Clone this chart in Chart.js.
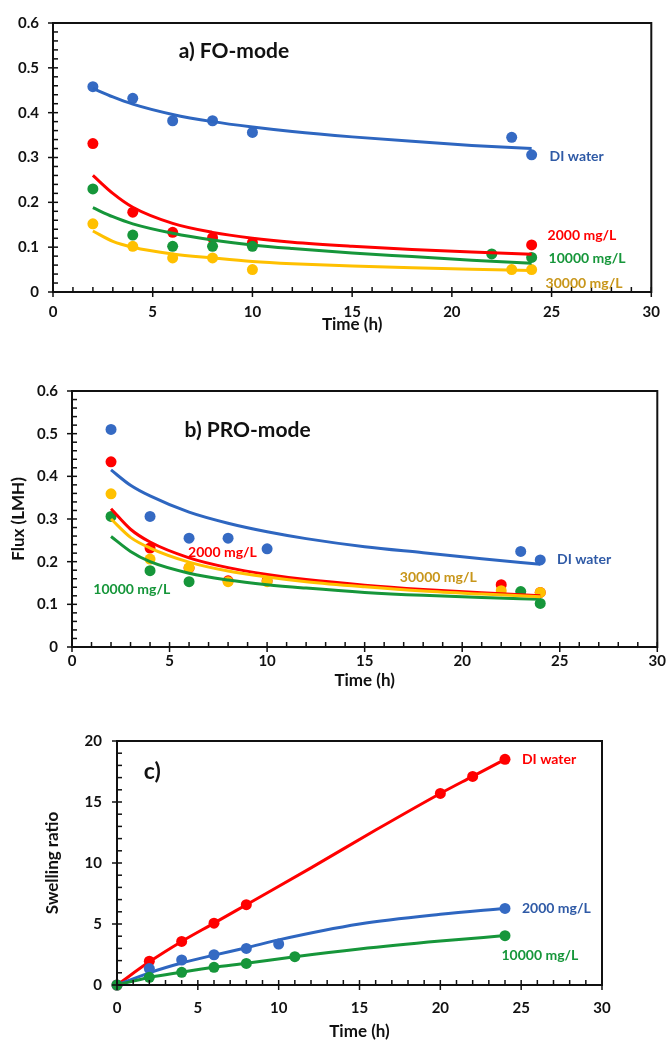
<!DOCTYPE html>
<html>
<head>
<meta charset="utf-8">
<script src="https://cdn.jsdelivr.net/npm/chart.js@4"></script>
<style>
  body { margin: 0; background: #fff; }
  .panel { position: absolute; left: 0; }
</style>
</head>
<body>
<canvas id="chartA" class="panel" style="top:0px" width="671" height="335"></canvas>
<canvas id="chartB" class="panel" style="top:340px" width="671" height="351"></canvas>
<canvas id="chartC" class="panel" style="top:690px" width="671" height="352"></canvas>
<script>
// ---- a) FO-mode, measured points (Time h, Flux LMH)
const timeA_DI = [2, 4, 6, 8, 10, 23, 24];
const fluxA_DI = [0.458, 0.432, 0.382, 0.382, 0.356, 0.345, 0.306];
const timeA_2000 = [2, 4, 6, 8, 10, 24];
const fluxA_2000 = [0.331, 0.178, 0.133, 0.121, 0.110, 0.105];
const timeA_10000 = [2, 4, 6, 8, 10, 22, 24];
const fluxA_10000 = [0.230, 0.127, 0.102, 0.102, 0.102, 0.085, 0.077];
const timeA_30000 = [2, 4, 6, 8, 10, 23, 24];
const fluxA_30000 = [0.152, 0.102, 0.076, 0.076, 0.050, 0.050, 0.050];

// trend lines
const fitTime = [2, 3, 4, 6, 8, 10, 12, 15, 18, 21, 24];
const fitA_DI = [0.454, 0.435, 0.419, 0.396, 0.380, 0.368, 0.358, 0.346, 0.336, 0.327, 0.320];
const fitA_2000 = [0.260, 0.220, 0.189, 0.153, 0.133, 0.120, 0.111, 0.102, 0.095, 0.089, 0.084];
const fitA_10000 = [0.188, 0.168, 0.152, 0.131, 0.116, 0.105, 0.097, 0.087, 0.079, 0.071, 0.064];
const fitA_30000 = [0.136, 0.113, 0.100, 0.085, 0.076, 0.068, 0.063, 0.058, 0.054, 0.051, 0.048];

// ---- b) PRO-mode
const timeB_DI = [2, 4, 6, 8, 10, 23, 24];
const fluxB_DI = [0.510, 0.306, 0.255, 0.255, 0.230, 0.224, 0.204];
const timeB_2000 = [2, 4, 6, 8, 10, 22, 24];
const fluxB_2000 = [0.434, 0.232, 0.185, 0.155, 0.155, 0.146, 0.128];
const timeB_10000 = [2, 4, 6, 23, 24];
const fluxB_10000 = [0.306, 0.179, 0.153, 0.130, 0.102];
const timeB_30000 = [2, 4, 6, 8, 10, 22, 24];
const fluxB_30000 = [0.359, 0.206, 0.186, 0.153, 0.153, 0.132, 0.128];

const fitB_DI = [0.415, 0.379, 0.354, 0.316, 0.290, 0.270, 0.254, 0.235, 0.221, 0.207, 0.194];
const fitB_2000 = [0.324, 0.276, 0.246, 0.209, 0.186, 0.170, 0.158, 0.145, 0.135, 0.127, 0.120];
const fitB_10000 = [0.259, 0.224, 0.200, 0.173, 0.157, 0.146, 0.138, 0.128, 0.121, 0.116, 0.112];
const fitB_30000 = [0.300, 0.257, 0.232, 0.199, 0.178, 0.164, 0.153, 0.141, 0.131, 0.124, 0.118];

// ---- c) Swelling ratio
const timeC_DI = [0, 2, 4, 6, 8, 20, 22, 24];
const ratioC_DI = [0, 1.95, 3.57, 5.07, 6.58, 15.7, 17.1, 18.5];
const timeC_2000 = [0, 2, 4, 6, 8, 10, 24];
const ratioC_2000 = [0, 1.35, 2.05, 2.48, 3.0, 3.36, 6.28];
const timeC_10000 = [0, 2, 4, 6, 8, 11, 24];
const ratioC_10000 = [0, 0.63, 1.04, 1.45, 1.77, 2.32, 4.04];

const fitTimeC_DI = [0, 2, 4, 6, 8, 12, 16, 20, 22, 24];
const fitC_DI = [0, 1.9, 3.57, 5.07, 6.58, 9.6, 12.7, 15.7, 17.1, 18.5];
const fitTimeC_2000 = [0, 2, 4, 6, 8, 10, 15, 20, 24];
const fitC_2000 = [0, 1.0, 1.8, 2.45, 3.05, 3.7, 5.0, 5.8, 6.28];
const fitTimeC_10000 = [0, 2, 4, 6, 8, 11, 15, 20, 24];
const fitC_10000 = [0, 0.62, 1.05, 1.45, 1.78, 2.32, 2.95, 3.6, 4.05];

const BLUE = '#356ac3', RED = '#ff0000', GREEN = '#16963a', YELLOW = '#ffc000';
const BLUE_TXT = '#2f5aa6', GOLD_TXT = '#c8961a';
const FONT = "Lato, 'Open Sans', sans-serif";

function pairs(xs, ys) {
    return xs.map((x, i) => ({ x: x, y: ys[i] }));
}

function pointSet(xs, ys, color, order) {
    return {
        data: pairs(xs, ys),
        showLine: false,
        pointRadius: 5.5,
        pointBorderWidth: 0,
        backgroundColor: color,
        borderColor: color,
        order: order,
        clip: false
    };
}

function lineSet(xs, ys, color, order) {
    return {
        data: pairs(xs, ys),
        showLine: true,
        pointRadius: 0,
        borderColor: color,
        borderWidth: 3,
        cubicInterpolationMode: 'monotone',
        order: order,
        clip: false
    };
}

// box + inside minor ticks + text labels
const framePlugin = {
    id: 'frame',
    afterDatasetsDraw(chart, args, opts) {
        const ctx = chart.ctx;
        const a = chart.chartArea;
        const x = chart.scales.x, y = chart.scales.y;
        ctx.save();
        ctx.strokeStyle = '#111';
        ctx.lineWidth = 2;
        ctx.strokeRect(a.left, a.top, a.right - a.left, a.bottom - a.top);
        ctx.lineWidth = 1.5;
        const isMajor = (v, m) => Math.abs(v / m - Math.round(v / m)) < 1e-6;
        for (let v = x.min; v <= x.max + 1e-9; v += opts.xMinor) {
            const px = x.getPixelForValue(v);
            ctx.beginPath();
            ctx.moveTo(px, a.bottom - 5);
            ctx.lineTo(px, a.bottom + (isMajor(v, opts.xMajor) ? 5 : 0));
            ctx.stroke();
        }
        for (let v = y.min; v <= y.max + 1e-9; v += opts.yMinor) {
            const py = y.getPixelForValue(v);
            ctx.beginPath();
            ctx.moveTo(a.left + 5, py);
            ctx.lineTo(a.left - (isMajor(v, opts.yMajor) ? 5 : 0), py);
            ctx.stroke();
        }
        ctx.textBaseline = 'middle';
        ctx.textAlign = 'left';
        opts.notes.forEach(n => {
            ctx.font = `bold ${n.size}px ${FONT}`;
            ctx.fillStyle = n.color;
            ctx.fillText(n.text, x.getPixelForValue(n.x), y.getPixelForValue(n.y));
        });
        ctx.restore();
    }
};

function makeChart(id, datasets, cfg) {
    return new Chart(document.getElementById(id), {
        type: 'scatter',
        data: { datasets: datasets },
        plugins: [framePlugin],
        options: {
            responsive: false,
            animation: false,
            devicePixelRatio: 1,
            layout: { padding: { top: cfg.padTop, right: cfg.padRight, left: 0, bottom: 0 } },
            plugins: {
                legend: { display: false },
                tooltip: { enabled: false },
                frame: { xMinor: 1, xMajor: 5, yMinor: cfg.yMinor, yMajor: cfg.yStep, notes: cfg.notes }
            },
            scales: {
                x: {
                    min: 0, max: 30,
                    grid: { display: false, drawTicks: false },
                    border: { display: false },
                    ticks: { stepSize: 5, padding: cfg.xPad, color: '#111', font: { family: FONT, size: 15, weight: 'bold' } },
                    title: { display: true, text: 'Time (h)', color: '#111', padding: 0, font: { family: FONT, size: 17, weight: 'bold' } },
                    afterFit: s => { s.height = cfg.xHeight; }
                },
                y: {
                    min: 0, max: cfg.yMax,
                    grid: { display: false, drawTicks: false },
                    border: { display: false },
                    ticks: {
                        stepSize: cfg.yStep, padding: cfg.yPad, color: '#111',
                        font: { family: FONT, size: 15, weight: 'bold' },
                        callback: v => cfg.yStep < 1 ? (v === 0 ? '0' : v.toFixed(1)) : v
                    },
                    title: { display: !!cfg.yTitle, text: cfg.yTitle || '', color: '#111', padding: { top: cfg.yTitlePad }, font: { family: FONT, size: 17, weight: 'bold' } },
                    afterFit: s => { s.width = cfg.yWidth; }
                }
            }
        }
    });
}

document.addEventListener('DOMContentLoaded', () => {
    makeChart('chartA', [
        lineSet(fitTime, fitA_DI, '#2e66c0', 0),
        lineSet(fitTime, fitA_2000, RED, 0),
        lineSet(fitTime, fitA_10000, GREEN, 0),
        lineSet(fitTime, fitA_30000, YELLOW, 0),
        pointSet(timeA_30000, fluxA_30000, YELLOW, 1),
        pointSet(timeA_10000, fluxA_10000, GREEN, 2),
        pointSet(timeA_2000, fluxA_2000, RED, 3),
        pointSet(timeA_DI, fluxA_DI, BLUE, 4)
    ], {
        padTop: 21, padRight: 11, yMax: 0.6, yStep: 0.1, yMinor: 0.02,
        xHeight: 43, yWidth: 53, xPad: 11, yPad: 14,
        notes: [
            { text: 'a) FO-mode', x: 6.3, y: 0.537, color: '#111', size: 21 },
            { text: 'DI water', x: 24.9, y: 0.303, color: BLUE_TXT, size: 14 },
            { text: '2000 mg/L', x: 24.8, y: 0.125, color: RED, size: 14 },
            { text: '10000 mg/L', x: 24.85, y: 0.075, color: GREEN, size: 14 },
            { text: '30000 mg/L', x: 24.7, y: 0.020, color: GOLD_TXT, size: 14 }
        ]
    });

    makeChart('chartB', [
        lineSet(fitTime, fitB_DI, '#2e66c0', 0),
        lineSet(fitTime, fitB_30000, YELLOW, 0),
        lineSet(fitTime, fitB_2000, RED, 0),
        lineSet(fitTime, fitB_10000, GREEN, 0),
        pointSet(timeB_30000, fluxB_30000, YELLOW, 1),
        pointSet(timeB_10000, fluxB_10000, GREEN, 2),
        pointSet(timeB_2000, fluxB_2000, RED, 3),
        pointSet(timeB_DI, fluxB_DI, BLUE, 4)
    ], {
        padTop: 51, padRight: 11, yMax: 0.6, yStep: 0.1, yMinor: 0.02,
        xHeight: 44, yWidth: 72, xPad: 5, yPad: 14,
        yTitle: 'Flux (LMH)', yTitlePad: 8,
        notes: [
            { text: 'b) PRO-mode', x: 5.77, y: 0.509, color: '#111', size: 21 },
            { text: '2000 mg/L', x: 5.95, y: 0.222, color: RED, size: 14 },
            { text: '10000 mg/L', x: 1.09, y: 0.135, color: GREEN, size: 14 },
            { text: '30000 mg/L', x: 16.8, y: 0.162, color: GOLD_TXT, size: 14 },
            { text: 'DI water', x: 24.86, y: 0.204, color: BLUE_TXT, size: 14 }
        ]
    });

    makeChart('chartC', [
        pointSet(timeC_10000, ratioC_10000, GREEN, 1),
        pointSet(timeC_2000, ratioC_2000, BLUE, 2),
        pointSet(timeC_DI, ratioC_DI, RED, 3),
        lineSet(fitTimeC_10000, fitC_10000, GREEN, 4),
        lineSet(fitTimeC_2000, fitC_2000, '#2e66c0', 5),
        lineSet(fitTimeC_DI, fitC_DI, RED, 6)
    ], {
        padTop: 51, padRight: 69, yMax: 20, yStep: 5, yMinor: 1,
        xHeight: 57, yWidth: 117, xPad: 14, yPad: 15,
        yTitle: 'Swelling ratio', yTitlePad: 42,
        notes: [
            { text: 'c)', x: 1.66, y: 17.47, color: '#111', size: 23 },
            { text: 'DI water', x: 25.05, y: 18.48, color: RED, size: 14 },
            { text: '2000 mg/L', x: 25.05, y: 6.28, color: BLUE_TXT, size: 14 },
            { text: '10000 mg/L', x: 23.78, y: 2.46, color: GREEN, size: 14 }
        ]
    });
});
</script>
</body>
</html>
